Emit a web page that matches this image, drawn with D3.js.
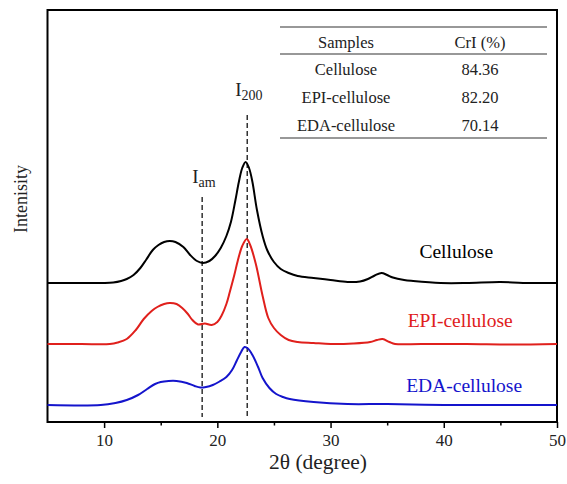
<!DOCTYPE html>
<html>
<head>
<meta charset="utf-8">
<script src="https://cdn.jsdelivr.net/npm/d3@7"></script>
<style>
  body { margin: 0; background: #fff; }
</style>
</head>
<body>
<svg id="chart" width="567" height="484"></svg>
<script>
(function () {
    'use strict';

    // XRD patterns (2theta, intensity a.u. incl. offset)
    var cellulose = [[5,139],[8,139],[10,139],[10.8,139.5],[11.5,141],[12,143],[12.6,147],[13.2,154],[13.7,162],[14.3,172],[14.8,177],[15.3,180],[15.8,181],[16.3,180],[17,175],[17.6,167],[18.2,161],[18.7,159],[19.3,161],[19.8,166],[20.3,174],[20.8,186],[21.2,200],[21.6,222],[21.9,240],[22.2,254],[22.5,260],[22.8,254],[23.1,240],[23.5,212],[24,186],[24.4,172],[25,160],[25.6,153],[26.3,149],[27.1,146],[28.5,144],[30,142],[31.5,140],[32.6,140.5],[33.3,143],[33.9,146.5],[34.5,149],[35,147],[35.5,144.5],[36.5,142],[37.3,141],[39.7,139],[42,139],[45,140],[47,139],[50,139]];
    var epiCellulose = [[5,78],[8,78],[10.5,78],[11.2,79.5],[12,83],[12.8,92],[13.5,103],[14.2,111],[14.7,115],[15.3,118],[15.8,119],[16.4,118],[16.9,114],[17.4,108],[17.8,102],[18.3,97.5],[18.9,98.5],[19.5,97],[20,100],[20.4,107],[20.8,118],[21.1,130],[21.5,147],[21.8,161],[22.2,176],[22.6,183],[22.9,177],[23.4,158],[24,126],[24.5,104],[25,94],[25.6,87],[26.3,82],[27.1,80],[28.5,79],[30,78],[32,78.5],[33.5,80],[34.1,82],[34.6,83],[35.2,80],[35.7,78],[38,78],[42,78],[46,77.5],[50,78]];
    var edaCellulose = [[5,17],[9.7,17],[11,19],[12,22],[13,27],[13.8,33],[14.5,38],[15,40],[15.7,41],[16.4,41],[17.3,39],[18,36],[18.5,34.5],[19,35],[19.6,37],[20.2,40.5],[20.8,45],[21.3,52],[21.7,61],[22.1,70],[22.4,75],[22.7,73.5],[23.1,67],[23.6,55],[24,44],[24.6,34],[25.2,28],[25.8,25],[26.4,23],[28.5,20],[31.5,18],[35,18],[40,17],[45,17],[50,17]];

    var seriesNames = ['Cellulose', 'EPI-cellulose', 'EDA-cellulose'];
    var seriesColors = ['#000000', '#e0201c', '#1414cc'];
    var seriesLabelPos = [[41.1, 164], [41.45, 95], [41.8, 30]];

    var majorTicks = [10, 20, 30, 40, 50];
    var minorTicks = [15, 25, 35, 45];

    var crIHeader = ['Samples', 'CrI (%)'];
    var crIValues = ['84.36', '82.20', '70.14'];

    var iamPos = 18.66, i200Pos = 22.64;

    var serif = 'Liberation Serif';

    var svg = d3.select('#chart').attr('font-family', serif);
    var margin = {top: 10, right: 10, bottom: 62, left: 47.5};
    var width = 567, height = 484;

    var x = d3.scaleLinear().domain([5, 50]).range([margin.left, width - margin.right]);
    var y = d3.scaleLinear().domain([0, 412]).range([height - margin.bottom, margin.top]);

    // bottom axis, major + minor ticks pointing out
    svg.append('g')
        .attr('transform', `translate(0, ${y(0)})`)
        .call(d3.axisBottom(x).tickValues(majorTicks).tickSize(6).tickPadding(6).tickFormat(d3.format('d')))
        .attr('font-family', serif).attr('font-size', 17)
        .call(g => g.select('.domain').remove())
        .call(g => g.selectAll('.tick line').attr('stroke-width', 1.5))
        .call(g => g.selectAll('.tick text').attr('fill', '#222'));

    svg.append('g')
        .attr('transform', `translate(0, ${y(0)})`)
        .call(d3.axisBottom(x).tickValues(minorTicks).tickSize(3.5).tickFormat(''))
        .call(g => g.select('.domain').remove())
        .call(g => g.selectAll('.tick line').attr('stroke-width', 1.5));

    // frame
    svg.append('rect')
        .attr('x', x(5)).attr('y', y(412))
        .attr('width', x(50) - x(5)).attr('height', y(0) - y(412))
        .attr('fill', 'none').attr('stroke', '#000').attr('stroke-width', 2);

    // dashed reference lines
    svg.append('line')
        .attr('x1', x(iamPos)).attr('x2', x(iamPos))
        .attr('y1', y(225)).attr('y2', y(5))
        .attr('stroke', '#222').attr('stroke-width', 1.4).attr('stroke-dasharray', '5,3');
    svg.append('line')
        .attr('x1', x(i200Pos)).attr('x2', x(i200Pos))
        .attr('y1', y(307)).attr('y2', y(5))
        .attr('stroke', '#222').attr('stroke-width', 1.4).attr('stroke-dasharray', '5,3');

    var iam = svg.append('text')
        .attr('x', x(iamPos) - 10).attr('y', y(239))
        .attr('font-size', 19).attr('fill', '#222');
    iam.append('tspan').text('I');
    iam.append('tspan').attr('dy', 4).attr('font-size', 14).text('am');

    var i200 = svg.append('text')
        .attr('x', x(i200Pos) - 12).attr('y', y(326))
        .attr('font-size', 19).attr('fill', '#222');
    i200.append('tspan').text('I');
    i200.append('tspan').attr('dy', 4).attr('font-size', 14).text('200');

    // curves
    var line = d3.line()
        .x(d => x(d[0]))
        .y(d => y(d[1]))
        .curve(d3.curveCatmullRom.alpha(0.5));

    [cellulose, epiCellulose, edaCellulose].forEach((s, i) => {
        svg.append('path')
            .datum(s)
            .attr('d', line)
            .attr('fill', 'none')
            .attr('stroke', seriesColors[i])
            .attr('stroke-width', 2)
            .attr('stroke-linejoin', 'round');

        svg.append('text')
            .attr('x', x(seriesLabelPos[i][0]))
            .attr('y', y(seriesLabelPos[i][1]))
            .attr('text-anchor', 'middle')
            .attr('font-size', 19.5)
            .attr('fill', seriesColors[i])
            .text(seriesNames[i]);
    });

    // CrI table
    var tx0 = 280, tx1 = 547;
    var col = [346, 480];
    [27, 54, 138].forEach(ly => {
        svg.append('line')
            .attr('x1', tx0).attr('x2', tx1).attr('y1', ly).attr('y2', ly)
            .attr('stroke', '#333').attr('stroke-width', 1.2);
    });
    crIHeader.forEach((h, j) => {
        svg.append('text').attr('x', col[j]).attr('y', 48)
            .attr('text-anchor', 'middle').attr('font-size', 16.5).attr('fill', '#222').text(h);
    });
    seriesNames.forEach((n, i) => {
        var ry = 74.5 + i * 28;
        svg.append('text').attr('x', col[0]).attr('y', ry)
            .attr('text-anchor', 'middle').attr('font-size', 16.5).attr('fill', '#222').text(n);
        svg.append('text').attr('x', col[1]).attr('y', ry)
            .attr('text-anchor', 'middle').attr('font-size', 16.5).attr('fill', '#222').text(crIValues[i]);
    });

    // axis titles
    svg.append('text')
        .attr('x', 318).attr('y', 469)
        .attr('text-anchor', 'middle').attr('font-size', 21.5).attr('fill', '#222')
        .text('2θ (degree)');

    svg.append('text')
        .attr('transform', 'translate(27, 199) rotate(-90)')
        .attr('text-anchor', 'middle').attr('font-size', 18).attr('fill', '#222')
        .text('Intenisity');
}());
</script>
</body>
</html>
